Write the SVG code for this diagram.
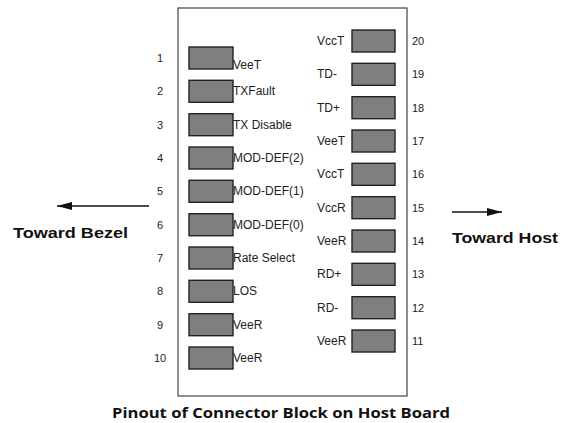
<svg xmlns="http://www.w3.org/2000/svg" width="562" height="423" viewBox="0 0 562 423">
<defs>
<style>
.box{fill:#fff;stroke:#444;stroke-width:1.2}
.pin{fill:#7f7f7f;stroke:#222;stroke-width:1.4}
.lbl{font-family:"Liberation Sans",Arial,sans-serif;font-size:12px;fill:#222}
.num{font-family:"Liberation Sans",Arial,sans-serif;font-size:11px;fill:#222}
.dir{font-family:"Liberation Sans",Arial,sans-serif;font-size:15px;font-weight:bold;fill:#111}
.cap{font-family:"Open Sans","Noto Sans",sans-serif;font-size:14px;font-weight:bold;fill:#111}
.arr{stroke:#111;stroke-width:1.3;fill:none}
</style>
<marker id="ah" viewBox="0 0 15 8" refX="15" refY="4" markerWidth="15" markerHeight="8" markerUnits="userSpaceOnUse" orient="auto">
<path d="M0,0 L15,4 L0,8 Z" fill="#111"/>
</marker>
</defs>
<rect width="562" height="423" fill="#fff"/>
<g id="block">
<rect class="box" x="178" y="8" width="229" height="388"/>
</g>
<g id="left-pins">
<g id="pin1"><rect class="pin" x="189" y="47" width="44" height="22"/><text class="num" x="160" y="62" text-anchor="middle">1</text><text class="lbl" x="233" y="68.5">VeeT</text></g>
<g id="pin2"><rect class="pin" x="189" y="80.3" width="44" height="22"/><text class="num" x="160" y="95.3" text-anchor="middle">2</text><text class="lbl" x="233" y="95.3">TXFault</text></g>
<g id="pin3"><rect class="pin" x="189" y="113.7" width="44" height="22"/><text class="num" x="160" y="128.7" text-anchor="middle">3</text><text class="lbl" x="233" y="128.7">TX Disable</text></g>
<g id="pin4"><rect class="pin" x="189" y="147" width="44" height="22"/><text class="num" x="160" y="162" text-anchor="middle">4</text><text class="lbl" x="233" y="162">MOD-DEF(2)</text></g>
<g id="pin5"><rect class="pin" x="189" y="180.3" width="44" height="22"/><text class="num" x="160" y="195.3" text-anchor="middle">5</text><text class="lbl" x="233" y="195.3">MOD-DEF(1)</text></g>
<g id="pin6"><rect class="pin" x="189" y="213.7" width="44" height="22"/><text class="num" x="160" y="228.7" text-anchor="middle">6</text><text class="lbl" x="233" y="228.7">MOD-DEF(0)</text></g>
<g id="pin7"><rect class="pin" x="189" y="247" width="44" height="22"/><text class="num" x="160" y="262" text-anchor="middle">7</text><text class="lbl" x="233" y="262">Rate Select</text></g>
<g id="pin8"><rect class="pin" x="189" y="280.3" width="44" height="22"/><text class="num" x="160" y="295.3" text-anchor="middle">8</text><text class="lbl" x="233" y="295.3">LOS</text></g>
<g id="pin9"><rect class="pin" x="189" y="313.7" width="44" height="22"/><text class="num" x="160" y="328.7" text-anchor="middle">9</text><text class="lbl" x="233" y="328.7">VeeR</text></g>
<g id="pin10"><rect class="pin" x="189" y="347" width="44" height="22"/><text class="num" x="160" y="362" text-anchor="middle">10</text><text class="lbl" x="233" y="362">VeeR</text></g>
</g>
<g id="right-pins">
<g id="pin20"><rect class="pin" x="352" y="30" width="43" height="22"/><text class="lbl" x="317" y="45">VccT</text><text class="num" x="412" y="45">20</text></g>
<g id="pin19"><rect class="pin" x="352" y="63.3" width="43" height="22"/><text class="lbl" x="317" y="78.3">TD-</text><text class="num" x="412" y="78.3">19</text></g>
<g id="pin18"><rect class="pin" x="352" y="96.7" width="43" height="22"/><text class="lbl" x="317" y="111.7">TD+</text><text class="num" x="412" y="111.7">18</text></g>
<g id="pin17"><rect class="pin" x="352" y="130" width="43" height="22"/><text class="lbl" x="317" y="145">VeeT</text><text class="num" x="412" y="145">17</text></g>
<g id="pin16"><rect class="pin" x="352" y="163.3" width="43" height="22"/><text class="lbl" x="317" y="178.3">VccT</text><text class="num" x="412" y="178.3">16</text></g>
<g id="pin15"><rect class="pin" x="352" y="196.7" width="43" height="22"/><text class="lbl" x="317" y="211.7">VccR</text><text class="num" x="412" y="211.7">15</text></g>
<g id="pin14"><rect class="pin" x="352" y="230" width="43" height="22"/><text class="lbl" x="317" y="245">VeeR</text><text class="num" x="412" y="245">14</text></g>
<g id="pin13"><rect class="pin" x="352" y="263.3" width="43" height="22"/><text class="lbl" x="317" y="278.3">RD+</text><text class="num" x="412" y="278.3">13</text></g>
<g id="pin12"><rect class="pin" x="352" y="296.7" width="43" height="22"/><text class="lbl" x="317" y="311.7">RD-</text><text class="num" x="412" y="311.7">12</text></g>
<g id="pin11"><rect class="pin" x="352" y="330" width="43" height="22"/><text class="lbl" x="317" y="345">VeeR</text><text class="num" x="412" y="345">11</text></g>
</g>
<g id="connectors">
<line class="arr" x1="149" y1="206" x2="57" y2="206" marker-end="url(#ah)"/>
<line class="arr" x1="452" y1="212" x2="502" y2="212" marker-end="url(#ah)"/>
</g>
<g id="labels">
<text class="dir" x="13" y="238" textLength="115" lengthAdjust="spacingAndGlyphs">Toward Bezel</text>
<text class="dir" x="452" y="243" textLength="106" lengthAdjust="spacingAndGlyphs">Toward Host</text>
<text class="cap" x="112" y="418" textLength="338" lengthAdjust="spacingAndGlyphs">Pinout of Connector Block on Host Board</text>
</g>
</svg>
